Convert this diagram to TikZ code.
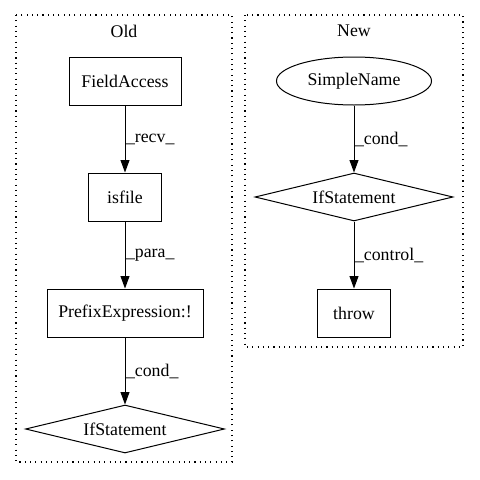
\documentclass[tikz,border=0pt]{standalone}
\usepackage{fontspec}
\setmainfont{Liberation Serif}
\usepackage{tikz}
\usetikzlibrary{shapes.geometric}
\usetikzlibrary{arrows.meta}
\tikzset{
  box/.style={rectangle, draw, line width=1pt, minimum height=48pt, inner sep=0pt},
  cond/.style={diamond, draw, line width=1pt, aspect=4, inner sep=0pt, minimum height=48pt},
  oval/.style={ellipse, draw, line width=1pt, inner sep=0pt, minimum height=48pt},
  cluster/.style={draw, line width=1.1pt, dash pattern=on 1.1pt off 4.2pt},
  edge/.style={draw, line width=1pt, -{Triangle[length=12.5pt,width=9pt]}},
  elab/.style={anchor=west, inner sep=0.5pt}
}

\begin{document}
\begin{tikzpicture}[x=1pt,y=-1pt, every node/.style={font=\fontsize{17.8}{20}\selectfont}]
    \useasboundingbox (0,0) rectangle (480,480);
    % clusters
    \draw[cluster] (16,15) rectangle (232,462);
    \draw[cluster] (245,15) rectangle (463,347);
    \node (oldlab) at (124,31) {Old};
    \node (newlab) at (354,31) {New};
    % old
    \node[box, minimum width=112pt] (fa) at (125,81) {FieldAccess};
    \node[box, minimum width=73pt] (isf) at (125,197) {isfile};
    \node[box, minimum width=156pt] (pre) at (125,313) {PrefixExpression:!};
    \node[cond, minimum width=199pt] (ifold) at (125,429) {IfStatement};
    % new
    \node[oval, minimum width=155pt] (sn) at (354,81) {SimpleName};
    \node[cond, minimum width=198pt] (ifnew) at (354,197) {IfStatement};
    \node[box, minimum width=73pt] (thr) at (354,313) {throw};
    \foreach \u/\v/\lab in {
      fa/isf/\_recv\_,
      isf/pre/\_para\_,
      pre/ifold/\_cond\_,
      sn/ifnew/\_cond\_,
      ifnew/thr/\_control\_%
    }{
      \draw[edge] (\u) -- node[elab] {\lab} (\v);
    }
\end{tikzpicture}
\end{document}
